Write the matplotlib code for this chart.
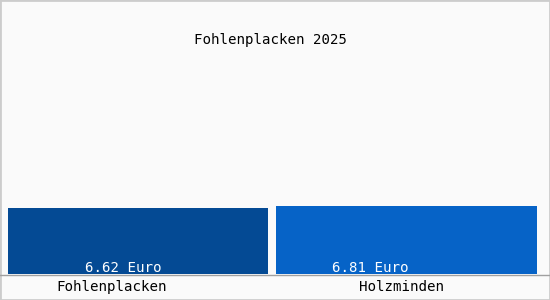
import matplotlib
matplotlib.use("Agg")
import matplotlib.pyplot as plt
from matplotlib.patches import Rectangle

TITLE = "Fohlenplacken 2025"
CATEGORIES = ["Fohlenplacken", "Holzminden"]
VALUES = [6.62, 6.81]
COLORS = ["#044a94", "#0663c7"]

W, H = 550, 300
FONT = "DejaVu Sans Mono"

fig = plt.figure(figsize=(W / 100, H / 100), dpi=100, facecolor="#fafafa")
fig.patches.append(Rectangle((0, 0), 1, 1, transform=fig.transFigure,
                             fill=False, edgecolor="#cccccc", linewidth=2))

# plot area: bottom at the axis line (y=274 px), top at figure top
ax = fig.add_axes([3.75 / W, 26 / H, 537 / W, 274 / H])
ax.set_facecolor("none")
x = range(len(VALUES))
ax.bar(x, VALUES, width=0.97, color=COLORS)
ax.set_xlim(-0.5, 1.5)
ax.set_ylim(0, 27.5)
ax.axis("off")

# axis line
fig.add_artist(plt.Line2D([0, 1], [25.5 / H, 25.5 / H], color="#a0a0a0", linewidth=1))

fig.text(270 / W, 1 - 40 / H, TITLE, ha="center", va="center", fontsize=10.2, family=FONT)

for xpos, v in zip([123, 370], VALUES):
    fig.text(xpos / W, 1 - 268 / H, f"{v:.2f} Euro", ha="center", va="center",
             fontsize=10.2, family=FONT, color="white")
for xpos, c in zip([112, 402], CATEGORIES):
    fig.text(xpos / W, 1 - 287 / H, c, ha="center", va="center", fontsize=10.2, family=FONT)

fig.savefig("out.png", dpi=100, facecolor=fig.get_facecolor())
